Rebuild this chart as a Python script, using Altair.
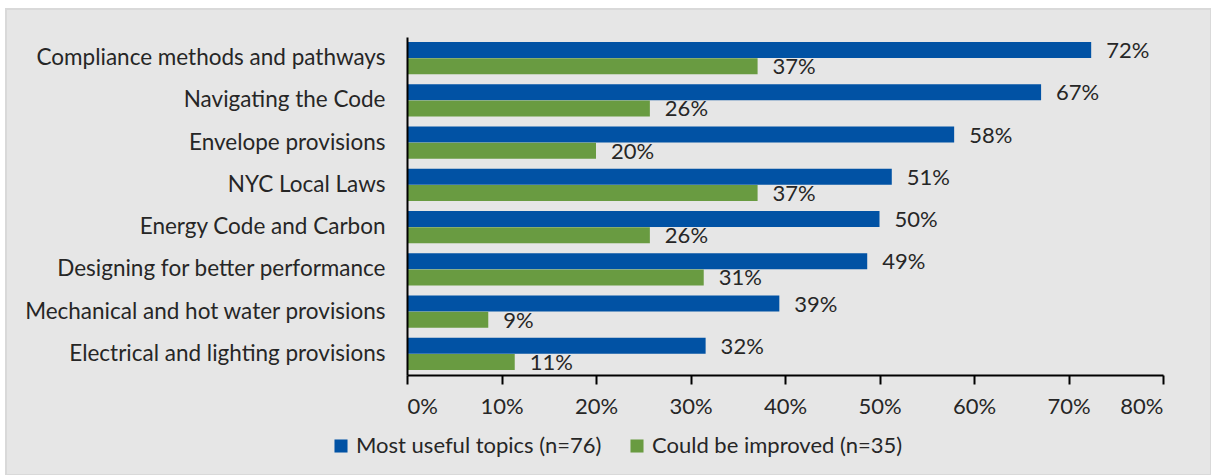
import altair as alt
import pandas as pd

categories = [
    "Compliance methods and pathways",
    "Navigating the Code",
    "Envelope provisions",
    "NYC Local Laws",
    "Energy Code and Carbon ",
    "Designing for better performance",
    "Mechanical and hot water provisions",
    "Electrical and lighting provisions",
]
series_names = ["Most useful topics (n=76)", "Could be improved (n=35)"]
most_useful = [72.4, 67.1, 57.9, 51.3, 50.0, 48.7, 39.4, 31.6]
could_improve = [37.1, 25.7, 20.0, 37.1, 25.7, 31.4, 8.6, 11.4]
colors = ["#0152a4", "#699b41"]
x_ticks = [0, 10, 20, 30, 40, 50, 60, 70, 80]

rows = []
for c, a, b in zip(categories, most_useful, could_improve):
    rows.append({"category": c, "series": series_names[0], "value": a})
    rows.append({"category": c, "series": series_names[1], "value": b})
df = pd.DataFrame(rows)

FONT = "Lato"
FS = 22
W, H = 756, 338

bg = alt.Chart(alt.Data(values=[{}])).mark_rect(
    fill="#e6e6e6", stroke="#d9d9d9", strokeWidth=2
).encode(
    x=alt.value(-401), x2=alt.value(804), y=alt.value(-28), y2=alt.value(438)
)

base = alt.Chart(df).encode(
    y=alt.Y("category:N", sort=categories,
            scale=alt.Scale(paddingInner=0.24, paddingOuter=0.12),
            axis=alt.Axis(title=None, ticks=False, domainColor="#000000", domainWidth=2,
                          labelFont=FONT, labelFontSize=22.5, labelColor="#262626",
                          labelPadding=22, labelLimit=400, zindex=1)),
    yOffset=alt.YOffset("series:N", sort=series_names,
                        scale=alt.Scale(domain=series_names, paddingInner=0, paddingOuter=0)),
)

bars = base.mark_bar(size=16).encode(
    x=alt.X("value:Q", scale=alt.Scale(domain=[0, 80], nice=False),
            axis=alt.Axis(title=None, values=x_ticks, labelExpr="datum.value + '%'",
                          grid=False, domainColor="#000000", domainWidth=2,
                          tickColor="#000000", tickWidth=2, tickSize=9,
                          labelFont=FONT, labelFontSize=FS, labelColor="#262626",
                          labelPadding=12, zindex=1)),
    color=alt.Color("series:N", sort=series_names,
                    scale=alt.Scale(domain=series_names, range=colors),
                    legend=alt.Legend(title=None, orient="none", direction="horizontal",
                                      legendX=-77, legendY=398,
                                      symbolType="square", symbolSize=170,
                                      symbolStrokeWidth=0, symbolOpacity=1,
                                      labelOffset=4,
                                      labelFont=FONT, labelFontSize=FS, labelColor="#262626",
                                      columnPadding=24, labelLimit=400)),
)

labels = base.mark_text(align="left", baseline="middle", dx=15, dy=1, font=FONT,
                        fontSize=FS, color="#262626").encode(
    x=alt.X("value:Q"),
).transform_calculate(lbl="format(datum.value, '.0f') + '%'").encode(text="lbl:N")

chart = alt.layer(bg, bars, labels).properties(
    width=W, height=H,
    autosize=alt.AutoSizeParams(type="none"),
    padding={"left": 407, "top": 37, "right": 48, "bottom": 100},
    background="#ffffff",
).configure_view(stroke=None)

chart.save("out.html", embed_options={"renderer": "svg", "actions": False})
